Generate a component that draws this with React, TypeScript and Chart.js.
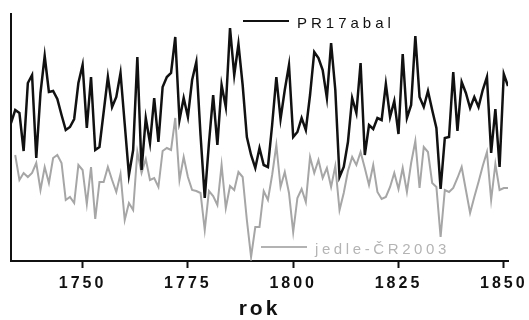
import React, { useEffect, useRef } from "react";
import { Chart, registerables } from "chart.js";

Chart.register(...registerables);

// Ring-width indices per year, 1733–1851
const firstYear = 1733;
const pr17abal = [
  1.38, 1.51, 1.48, 1.10, 1.78, 1.86, 1.03, 1.68, 2.05, 1.69,
  1.70, 1.62, 1.46, 1.31, 1.34, 1.42, 1.78, 1.96, 1.33, 1.84,
  1.11, 1.14, 1.49, 1.84, 1.54, 1.64, 1.88, 1.37, 0.86, 1.11,
  2.04, 0.91, 1.43, 1.18, 1.63, 1.19, 1.74, 1.84, 1.88, 2.24,
  1.41, 1.63, 1.44, 1.81, 1.99, 1.26, 0.63, 1.18, 1.66, 1.16,
  1.76, 1.54, 2.33, 1.86, 2.17, 1.76, 1.24, 1.06, 0.93, 1.13,
  0.96, 0.94, 1.36, 1.84, 1.42, 1.71, 1.96, 1.24, 1.29, 1.43,
  1.31, 1.66, 2.09, 2.03, 1.91, 1.63, 2.18, 1.71, 0.84, 0.94,
  1.19, 1.63, 1.48, 1.98, 1.06, 1.36, 1.32, 1.43, 1.41, 1.77,
  1.44, 1.60, 1.27, 2.07, 1.43, 1.56, 2.25, 1.64, 1.54, 1.70,
  1.51, 1.33, 0.72, 1.23, 1.24, 1.89, 1.30, 1.79, 1.68, 1.53,
  1.64, 1.54, 1.71, 1.84, 1.08, 1.52, 0.94, 1.87, 1.75,
];
const jedleCR2003 = [
  null, 1.06, 0.81, 0.88, 0.84, 0.88, 0.98, 0.71, 0.94, 0.78,
  1.03, 1.06, 0.98, 0.61, 0.64, 0.58, 0.96, 0.91, 0.57, 0.94,
  0.42, 0.79, 0.79, 0.94, 0.81, 0.69, 0.87, 0.41, 0.58, 0.51,
  1.09, 0.88, 1.02, 0.81, 0.83, 0.74, 1.10, 1.13, 1.11, 1.43,
  0.81, 1.04, 0.84, 0.71, 0.70, 0.68, 0.31, 0.70, 0.65, 0.56,
  0.96, 0.53, 0.75, 0.71, 0.89, 0.84, 0.41, 0.04, 0.34, 0.34,
  0.70, 0.61, 0.86, 1.16, 0.74, 0.89, 0.68, 0.29, 0.63, 0.72,
  0.59, 1.04, 0.88, 1.01, 0.83, 0.93, 0.74, 0.95, 0.51, 0.68,
  0.90, 1.04, 0.96, 1.09, 0.93, 0.76, 0.96, 0.69, 0.62, 0.64,
  0.74, 0.88, 0.72, 0.93, 0.69, 0.98, 1.20, 0.73, 1.14, 1.09,
  0.78, 0.74, 0.24, 0.71, 0.69, 0.73, 0.83, 0.94, 0.71, 0.48,
  0.64, 0.79, 0.95, 1.09, 0.61, 0.97, 0.71, 0.73, 0.73,
];
const years = pr17abal.map((_, i) => firstYear + i);
const xTicks = [1750, 1775, 1800, 1825, 1850];
const seriesNames = ["PR17abal", "jedle-ČR2003"];
const axisTitle = "rok";

const FONT = "'Liberation Sans', Arial, Helvetica, sans-serif";

const spacingPlugin = {
  id: "spacing",
  beforeLayout(chart: any) {
    chart.ctx.letterSpacing = "3px";
  },
  beforeDraw(chart: any) {
    chart.ctx.letterSpacing = "3px";
  },
};

// In-plot legend: first entry near the top, second near the bottom
const legendPlugin = {
  id: "inPlotLegend",
  afterDraw(chart: any) {
    const { ctx, chartArea } = chart;
    const ds = chart.data.datasets;
    ctx.save();
    ctx.font = `15px ${FONT}`;
    ctx.textBaseline = "alphabetic";
    ctx.textAlign = "left";

    // PR17abal
    let lx = chartArea.left + 232;
    let ly = chartArea.top + 7;
    ctx.strokeStyle = ds[0].borderColor;
    ctx.lineWidth = 2;
    ctx.beginPath();
    ctx.moveTo(lx, ly);
    ctx.lineTo(lx + 46, ly);
    ctx.stroke();
    ctx.letterSpacing = "4px";
    ctx.fillStyle = "#111";
    ctx.fillText(ds[0].label, lx + 54, ly + 7);

    // jedle-ČR2003
    lx = chartArea.left + 250;
    ly = chartArea.bottom - 14;
    ctx.strokeStyle = "#9a9a9a";
    ctx.lineWidth = 1.5;
    ctx.beginPath();
    ctx.moveTo(lx, ly);
    ctx.lineTo(lx + 46, ly);
    ctx.stroke();
    ctx.letterSpacing = "3.6px";
    ctx.fillStyle = "#b4b4b4";
    ctx.fillText(ds[1].label, lx + 54, ly + 7);
    ctx.restore();
  },
};

export default function App() {
  const ref = useRef<HTMLCanvasElement | null>(null);

  useEffect(() => {
    if (!ref.current) return;
    const chart = new Chart(ref.current, {
      type: "line",
      data: {
        labels: years,
        datasets: [
          {
            label: seriesNames[0],
            data: pr17abal,
            borderColor: "#111111",
            borderWidth: 2.5,
            pointRadius: 0,
            tension: 0,
            order: 0,
          },
          {
            label: seriesNames[1],
            data: jedleCR2003,
            borderColor: "#a6a6a6",
            borderWidth: 2,
            pointRadius: 0,
            tension: 0,
            spanGaps: false,
            order: 1,
          },
        ],
      },
      options: {
        responsive: false,
        animation: false,
        devicePixelRatio: 1,
        layout: { padding: { left: 11, top: 14, right: 21, bottom: 0 } },
        plugins: {
          legend: { display: false },
          tooltip: { enabled: false },
        },
        scales: {
          x: {
            type: "linear",
            min: firstYear,
            max: years[years.length - 1],
            afterBuildTicks(scale: any) {
              scale.ticks = xTicks.map((v) => ({ value: v }));
            },
            afterFit(scale: any) {
              scale.height = 59;
              scale.paddingLeft = 0;
              scale.paddingRight = 0;
            },
            grid: {
              display: true,
              drawOnChartArea: false,
              drawTicks: true,
              tickLength: 7,
              tickWidth: 2,
              tickColor: "#111",
            },
            border: { display: true, width: 2, color: "#111" },
            ticks: {
              padding: 6,
              color: "#111",
              font: { family: FONT, size: 16, weight: "bold" },
              callback: (v: any) => String(v),
              maxRotation: 0,
            },
            title: {
              display: true,
              text: axisTitle,
              color: "#111",
              font: { family: FONT, size: 21, weight: "bold", lineHeight: 1 },
              padding: { top: 0, bottom: 0 },
            },
          },
          y: {
            min: 0,
            max: 2.47,
            afterFit(scale: any) {
              scale.width = 0;
            },
            grid: { display: false },
            ticks: { display: false },
            border: { display: true, width: 2, color: "#111" },
          },
        },
      },
      plugins: [spacingPlugin, legendPlugin],
    } as any);
    return () => chart.destroy();
  }, []);

  return (
    <div style={{ position: "fixed", left: 0, top: 0, width: 529, height: 320, background: "#fff" }}>
      <canvas ref={ref} width={529} height={320} style={{ display: "block" }} />
    </div>
  );
}
